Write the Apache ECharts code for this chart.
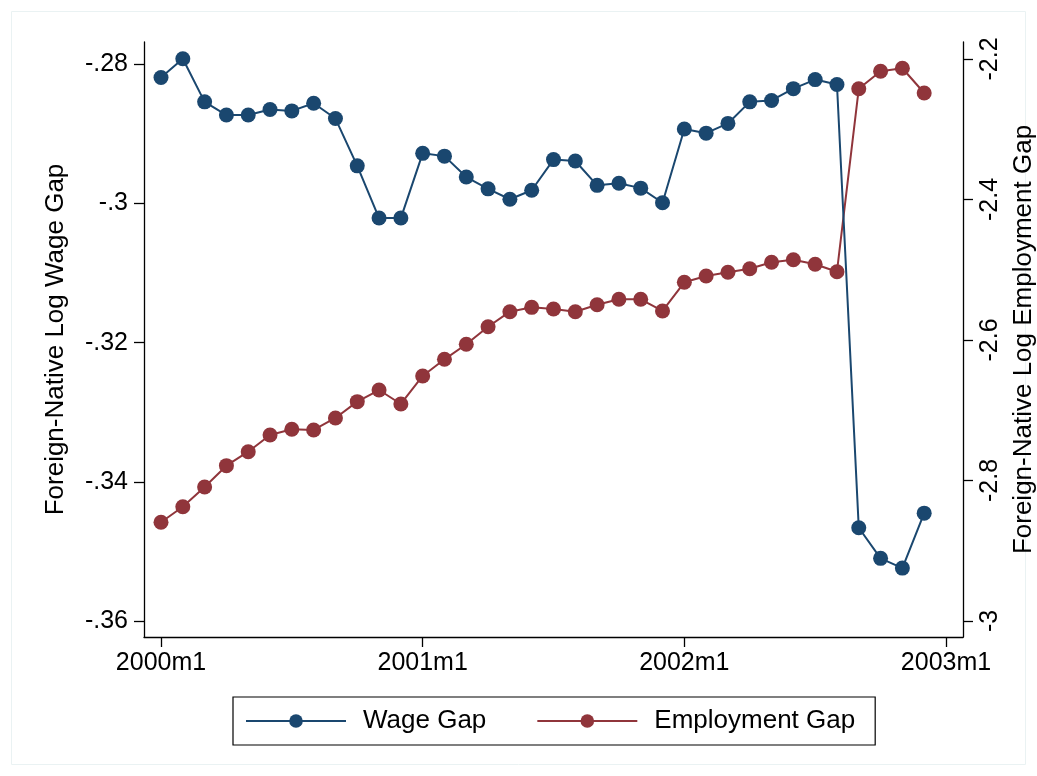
<!DOCTYPE html>
<html>
<head>
<meta charset="utf-8">
<script src="https://cdn.jsdelivr.net/npm/echarts@6/dist/echarts.min.js"></script>
<style>
  html, body { margin: 0; padding: 0; background: #ffffff; }
  #chart { width: 1037px; height: 776px; }
</style>
</head>
<body>
<div id="chart"></div>
<script>
// Monthly series, 2000m1 .. 2002m12 (month index 0..35)
const monthIndex = [
  0, 1, 2, 3, 4, 5, 6, 7, 8, 9, 10, 11,
  12, 13, 14, 15, 16, 17, 18, 19, 20, 21, 22, 23,
  24, 25, 26, 27, 28, 29, 30, 31, 32, 33, 34, 35
];

// Foreign-native log wage gap (left axis)
const wageGap = [
  -0.2819, -0.2792, -0.2854, -0.2873, -0.2873, -0.2865, -0.2867, -0.2856, -0.2878, -0.2946, -0.3021, -0.3021,
  -0.2928, -0.2932, -0.2962, -0.2979, -0.2994, -0.2981, -0.2937, -0.2939, -0.2974, -0.2971, -0.2978, -0.2999,
  -0.2893, -0.2899, -0.2885, -0.2854, -0.2852, -0.2835, -0.2822, -0.2829, -0.3466, -0.3510, -0.3524, -0.3445
];

// Foreign-native log employment gap (right axis)
const employmentGap = [
  -2.8595, -2.8373, -2.8093, -2.7789, -2.7590, -2.7352, -2.7271, -2.7281, -2.7110, -2.6878, -2.6712, -2.6911,
  -2.6512, -2.6275, -2.6061, -2.5811, -2.5597, -2.5535, -2.5559, -2.5597, -2.5498, -2.5421, -2.5421, -2.5587,
  -2.5179, -2.5089, -2.5036, -2.4985, -2.4894, -2.4857, -2.4922, -2.5028, -2.2423, -2.2175, -2.2132, -2.2484
];

// Axis ticks
const xTickValues = [0, 12, 24, 36];
const xTickLabels = ['2000m1', '2001m1', '2002m1', '2003m1'];
const leftTickValues = [-0.36, -0.34, -0.32, -0.30, -0.28];
const leftTickLabels = ['-.36', '-.34', '-.32', '-.3', '-.28'];
const rightTickValues = [-3.0, -2.8, -2.6, -2.4, -2.2];
const rightTickLabels = ['-3', '-2.8', '-2.6', '-2.4', '-2.2'];

const NAVY = '#1a476f';
const MAROON = '#90353b';
const FONT = '"Liberation Sans", Arial, Helvetica, sans-serif';

function labelFor(values, labels) {
  return function (v) {
    for (let i = 0; i < values.length; i++) {
      if (Math.abs(values[i] - v) < 1e-9) return labels[i];
    }
    return '';
  };
}

const axisLineStyle = { color: '#000000', width: 1.3 };

const chart = echarts.init(document.getElementById('chart'), null, { renderer: 'canvas' });

chart.setOption({
  backgroundColor: '#ffffff',
  animation: false,
  textStyle: { fontFamily: FONT },
  graphic: [{
    type: 'rect',
    silent: true,
    shape: { x: 11.5, y: 11.5, width: 1014, height: 753 },
    style: { fill: 'none', stroke: '#eaf2f3', lineWidth: 1 }
  }],
  grid: {
    left: 144, right: 74, top: 42, bottom: 139,
    containLabel: false,
    outerBoundsMode: 'none'
  },
  legend: {
    left: 233,
    top: 697,
    orient: 'horizontal',
    data: ['Wage Gap', 'Employment Gap'],
    borderColor: '#000000',
    borderWidth: 1.2,
    borderRadius: 0,
    padding: [11, 20, 11, 12],
    itemWidth: 100,
    itemHeight: 17,
    itemGap: 50,
    textStyle: { fontSize: 26, color: '#000000', fontFamily: FONT, padding: [0, 0, 0, 12] }
  },
  xAxis: {
    type: 'value',
    min: -0.78,
    max: 36.78,
    splitLine: { show: false },
    axisLine: { show: true, onZero: false, lineStyle: axisLineStyle },
    axisTick: { show: true, length: 10, lineStyle: axisLineStyle, customValues: xTickValues },
    axisLabel: {
      show: true,
      customValues: xTickValues,
      formatter: labelFor(xTickValues, xTickLabels),
      fontSize: 25,
      color: '#000000',
      margin: 14,
      fontFamily: FONT
    }
  },
  yAxis: [{
    type: 'value',
    position: 'left',
    min: -0.3623,
    max: -0.2768,
    name: 'Foreign-Native Log Wage Gap',
    nameLocation: 'middle',
    nameGap: 75,
    nameRotate: 90,
    nameTextStyle: { fontSize: 26, color: '#000000', fontFamily: FONT },
    splitLine: { show: false },
    axisLine: { show: true, onZero: false, lineStyle: axisLineStyle },
    axisTick: { show: true, length: 10, lineStyle: axisLineStyle, customValues: leftTickValues },
    axisLabel: {
      show: true,
      customValues: leftTickValues,
      formatter: labelFor(leftTickValues, leftTickLabels),
      fontSize: 25,
      color: '#000000',
      margin: 16,
      fontFamily: FONT
    }
  }, {
    type: 'value',
    position: 'right',
    min: -3.0228,
    max: -2.1758,
    name: 'Foreign-Native Log Employment Gap',
    nameLocation: 'middle',
    nameGap: 11,
    nameRotate: 90,
    nameTextStyle: { fontSize: 26, color: '#000000', fontFamily: FONT },
    splitLine: { show: false },
    axisLine: { show: true, onZero: false, lineStyle: axisLineStyle },
    axisTick: { show: true, length: 10, lineStyle: axisLineStyle, customValues: rightTickValues },
    axisLabel: {
      show: true,
      customValues: rightTickValues,
      formatter: labelFor(rightTickValues, rightTickLabels),
      rotate: 90,
      fontSize: 25,
      color: '#000000',
      margin: 15,
      fontFamily: FONT
    }
  }],
  series: [{
    name: 'Wage Gap',
    type: 'line',
    yAxisIndex: 0,
    data: monthIndex.map((m, i) => [m, wageGap[i]]),
    symbol: 'circle',
    symbolSize: 15,
    showSymbol: true,
    lineStyle: { color: NAVY, width: 2 },
    itemStyle: { color: NAVY },
    z: 3
  }, {
    name: 'Employment Gap',
    type: 'line',
    yAxisIndex: 1,
    data: monthIndex.map((m, i) => [m, employmentGap[i]]),
    symbol: 'circle',
    symbolSize: 15,
    showSymbol: true,
    lineStyle: { color: MAROON, width: 2 },
    itemStyle: { color: MAROON },
    z: 2
  }]
});
</script>
</body>
</html>
